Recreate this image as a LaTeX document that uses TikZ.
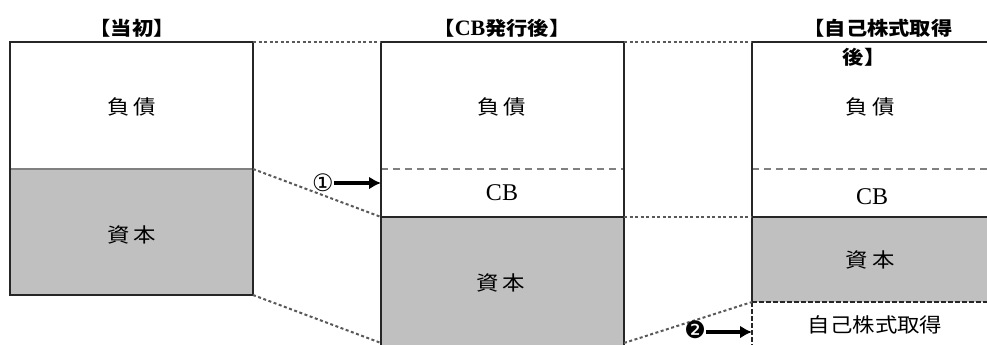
\documentclass[tikz,border=0pt]{standalone}
\usepackage{fontspec}
\usetikzlibrary{arrows.meta}
\setmainfont{Liberation Serif}
\newfontfamily\jp[FakeStretch=1.12]{Noto Sans CJK JP}
\newfontfamily\sym{DejaVu Sans}
\definecolor{capgray}{RGB}{192,192,192}
\begin{document}
\begin{tikzpicture}[x=1pt,y=-1pt,
  lbl/.style={font=\jp\fontsize{20}{20}\selectfont, inner sep=0pt},
  ttl/.style={font=\jp\bfseries\fontsize{19}{19}\selectfont, inner sep=0pt},
  cbl/.style={font=\rmfamily\fontsize{24}{24}\selectfont, inner sep=0pt},
  num/.style={font=\sym\fontsize{24}{24}\selectfont, inner sep=0pt},
  box/.style={draw=black!85, line width=2.2pt},
  thin/.style={draw=black!50, line width=1.2pt},
  dsh/.style={draw=black!50, line width=1.5pt, dash pattern=on 7pt off 5pt},
  bdsh/.style={draw=black!85, line width=2pt, dash pattern=on 5pt off 2pt},
  link/.style={draw=black!65, line width=2pt, dash pattern=on 3pt off 2.5pt},
  arr/.style={-{Latex[length=12pt,width=13pt]}, line width=3.5pt, draw=black}]
\useasboundingbox (0,0) rectangle (987,345);
\clip (0,0) rectangle (987,345);
% corner coordinates
\coordinate (Ltop) at (253,42);
\coordinate (Lmid) at (253,169);
\coordinate (Lbot) at (253,295);
\coordinate (Mtopl) at (381,42);
\coordinate (Mcbl) at (381,217);
\coordinate (Mbotl) at (381,343);
\coordinate (Mtopr) at (624,42);
\coordinate (Mcbr) at (624,217);
\coordinate (Mbotr) at (624,343);
\coordinate (Rtop) at (752,42);
\coordinate (Rcb) at (752,217);
\coordinate (Rcap) at (752,302);
\coordinate (Marr) at (381,183);
\coordinate (Rarr) at (752,332);
% left box
\fill[capgray] (10,169) rectangle (253,295);
\draw[thin] (10,169) -- (253,169);
\draw[box] (10,42) rectangle (253,295);
% middle box
\fill[capgray] (381,217) rectangle (624,352);
\draw[dsh] (381,169) -- (624,169);
\draw[box] (381,217) -- (624,217);
\draw[box] (381,42) rectangle (624,352);
% right box
\fill[capgray] (752,217) rectangle (1000,302);
\draw[dsh] (752,169) -- (1000,169);
\draw[box] (752,217) -- (1000,217);
\draw[box] (1000,42) -- (752,42) -- (752,302);
\draw[bdsh] (752,302) -- (1000,302);
\draw[bdsh] (752,302) -- (752,352);
% connectors
\draw[link] (Ltop) -- (Mtopl);
\draw[link] (Lmid) -- (Mcbl);
\draw[link] (Lbot) -- (Mbotl);
\draw[link] (Mtopr) -- (Rtop);
\draw[link] (Mcbr) -- (Rcb);
\draw[link] (Mbotr) -- (Rcap);
% titles
\node[ttl] (t1) at (132,28) {【当初】};
\node[ttl] (t2) at (502,28) {【{\rmfamily\bfseries\fontsize{22}{22}\selectfont CB}発行後】};
\node[ttl] (t3) at (878,28) {【自己株式取得};
\node[ttl] (t3b) at (864,57) {後】};
% labels
\node[lbl] (lf) at (132,107) {負\hspace{4pt}債};
\node[lbl] (lc) at (132,235) {資\hspace{4pt}本};
\node[lbl] (mf) at (502,107) {負\hspace{4pt}債};
\node[cbl] (mcb) at (502,193) {CB};
\node[lbl] (mc) at (501,283) {資\hspace{4pt}本};
\node[lbl] (rf) at (870,107) {負\hspace{4pt}債};
\node[cbl] (rcb) at (872,197) {CB};
\node[lbl] (rc) at (870,260) {資\hspace{4pt}本};
\node[lbl] (rt) at (875,325) {自己株式取得};
% arrows
\node[num] (n1) at (323,183) {①};
\draw[arr] (n1) -- (Marr);
\node[num] (n2) at (695,330) {❷};
\draw[arr] (n2.east |- Rarr) -- (Rarr);
\end{tikzpicture}
\end{document}
